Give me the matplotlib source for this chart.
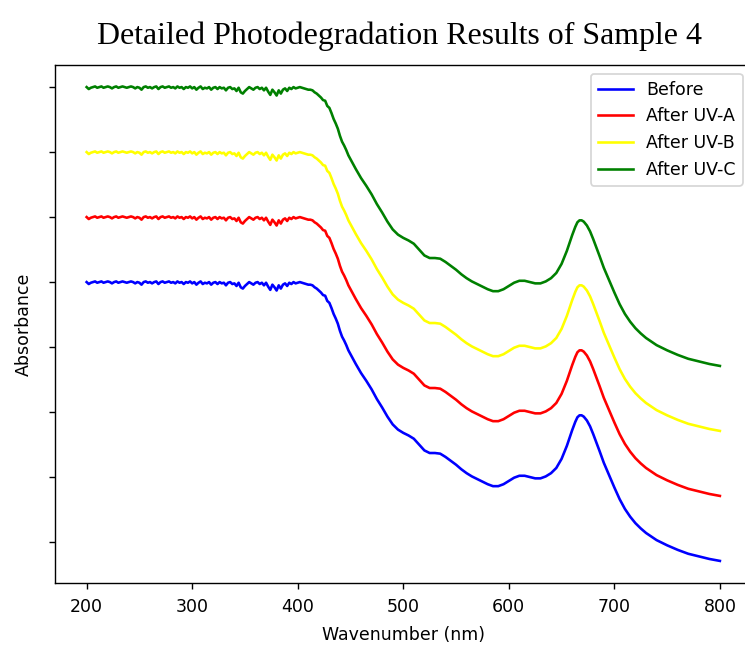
import numpy as np
import matplotlib
matplotlib.use("Agg")
import matplotlib.pyplot as plt

# noisy plateau, read every 2 nm
plateau_nm = np.arange(200, 412, 2)
plateau_abs = [
    4.00, 3.97, 3.99, 4.00, 4.01, 3.99, 4.00, 4.01, 3.99, 4.00,
    4.01, 4.00, 3.98, 4.00, 4.01, 3.99, 4.00, 4.01, 4.00, 3.99,
    4.00, 4.01, 4.00, 3.98, 4.00, 3.99, 3.96, 4.00, 4.01, 3.99,
    4.00, 3.98, 4.00, 4.01, 3.97, 4.00, 4.01, 3.99, 4.00, 4.01,
    3.99, 4.00, 3.98, 4.01, 3.99, 4.00, 3.97, 4.00, 3.99, 4.01,
    3.98, 4.00, 3.96, 3.99, 4.01, 3.97, 3.99, 3.98, 4.00, 3.96,
    3.99, 4.00, 3.97, 4.00, 3.98, 3.99, 3.95, 3.99, 4.00, 3.97,
    3.98, 3.94, 3.99, 3.92, 3.90, 3.94, 3.97, 4.00, 3.98, 3.96,
    3.99, 4.00, 3.97, 3.99, 3.95, 3.99, 3.93, 3.88, 3.96, 3.92,
    3.87, 3.95, 3.90, 3.96, 3.98, 3.94, 3.99, 3.97, 4.00, 3.98,
    3.99, 4.00, 3.99, 3.98, 3.97, 3.96,
]

# edge, bands and tail of the "Before" spectrum
band_nm = [412, 414, 416, 418, 420, 422, 424, 426, 428, 430,
           432, 434, 436, 438, 440, 442, 444, 446, 448, 450,
           455, 460, 465, 470, 475, 480, 485, 490, 495, 500,
           505, 510, 515, 520, 525, 530, 535, 540, 545, 550,
           555, 560, 565, 570, 575, 580, 585, 590, 595, 600,
           605, 610, 615, 620, 625, 630, 635, 640, 645, 650,
           655, 660, 663, 665, 667, 669, 671, 674, 677, 680,
           683, 686, 690, 695, 700, 705, 710, 715, 720, 725,
           730, 740, 750, 760, 770, 780, 790, 800]
band_abs = [3.96, 3.95, 3.92, 3.90, 3.87, 3.84, 3.80, 3.79, 3.71, 3.68,
            3.60, 3.51, 3.44, 3.36, 3.25, 3.16, 3.10, 3.03, 2.95, 2.89,
            2.74, 2.60, 2.48, 2.35, 2.20, 2.07, 1.93, 1.81, 1.73, 1.68,
            1.64, 1.59, 1.50, 1.41, 1.37, 1.37, 1.36, 1.31, 1.25, 1.19,
            1.12, 1.06, 1.01, 0.97, 0.93, 0.89, 0.86, 0.86, 0.89, 0.94,
            0.99, 1.02, 1.02, 1.00, 0.98, 0.98, 1.01, 1.06, 1.14, 1.28,
            1.48, 1.72, 1.85, 1.92, 1.95, 1.95, 1.93, 1.87, 1.78, 1.66,
            1.53, 1.40, 1.22, 1.03, 0.84, 0.66, 0.51, 0.39, 0.29, 0.21,
            0.14, 0.03, -0.05, -0.12, -0.18, -0.22, -0.26, -0.29]

labels = ["Before", "After UV-A", "After UV-B", "After UV-C"]
colors = ["blue", "red", "yellow", "green"]
offsets = [0, 1, 2, 3]

wl = np.concatenate([plateau_nm, band_nm])
base = np.concatenate([plateau_abs, band_abs])

fig = plt.figure(figsize=(5.96, 5.184), dpi=125)
# right edge of the axes sits just past the figure edge, as in the cropped original
ax = fig.add_axes([0.0738, 0.1003, 0.935, 0.7994])

for lab, col, off in zip(labels, colors, offsets):
    ax.plot(wl, base + off, color=col, label=lab)

ax.spines["right"].set_visible(False)
ax.set_ylim(-0.63, 7.34)
ax.set_yticks(np.arange(0, 8))
ax.set_yticklabels([])
ax.tick_params(axis="x", pad=5.2)
ax.set_xlabel("Wavenumber (nm)", labelpad=5.5)
ax.set_ylabel("Absorbance", labelpad=5.7)
ax.set_title("Detailed Photodegradation Results of Sample 4",
             family="Liberation Serif", fontsize=18.4, pad=12, x=0.495)
ax.legend(loc="upper right")

fig.savefig("out.png", dpi=125)
